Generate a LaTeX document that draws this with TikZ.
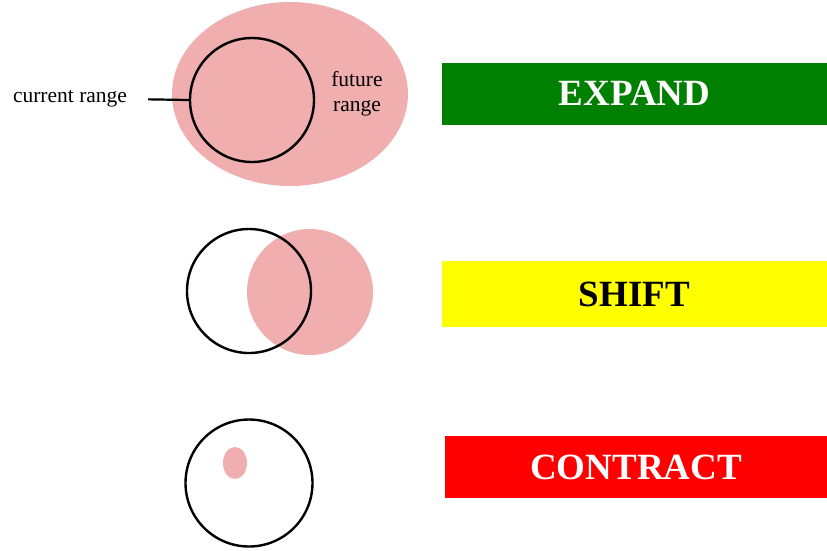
\documentclass[tikz,border=0pt]{standalone}
\usepackage{fontspec}
\setmainfont{Liberation Serif}
\usetikzlibrary{positioning,shapes.geometric}
\definecolor{rangepink}{RGB}{240,174,174}
\definecolor{expandgreen}{RGB}{0,128,0}
\definecolor{shiftyellow}{RGB}{255,255,0}
\begin{document}
\begin{tikzpicture}[x=1pt, y=-1pt,
  every node/.style={inner sep=0pt},
  future/.style={ellipse, fill=rangepink},
  current/.style={circle, draw, line width=2.4pt, minimum size=124pt},
  banner/.style={rectangle, minimum width=385pt, minimum height=62pt,
    font=\bfseries\fontsize{37}{40}\selectfont},
  lab/.style={font=\fontsize{21.5}{25}\selectfont, align=center},
  leader/.style={line width=2.2pt, shorten <=21pt}]
\useasboundingbox (0,0) rectangle (827,550);
% expand
\node[future, minimum width=236pt, minimum height=184pt] (fut1) at (290,94) {};
\node[current] (cur1) at (252,100) {};
\node[lab] (curlab) at (70,99) {current range};
\node[lab] (futlab) at (357,94) {future\\range};
\draw[leader] (curlab.east) -- (cur1.west);
\node[banner, fill=expandgreen, text=white] (expand) at (634.5,93.5) {EXPAND};
% shift
\node[future, circle, minimum size=126pt] (fut2) at (310,292) {};
\node[current] (cur2) at (249,291) {};
\node[banner, fill=shiftyellow, minimum height=66pt] (shift) at (634.5,294) {SHIFT};
% contract
\node[current, minimum size=127pt] (cur3) at (249,483) {};
\node[future, minimum width=24pt, minimum height=32pt] (fut3) at (235,463) {};
\node[banner, fill=red, text=white, minimum width=382pt] (contract) at (636,467) {CONTRACT};
\end{tikzpicture}
\end{document}
